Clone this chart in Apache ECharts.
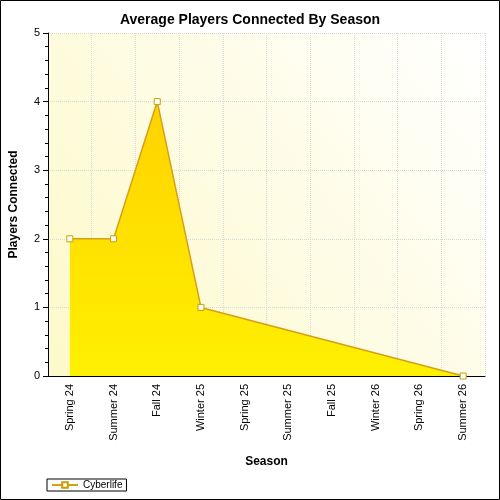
<!DOCTYPE html><html><head><meta charset="utf-8"><script src="https://cdn.jsdelivr.net/npm/echarts@6/dist/echarts.min.js"></script>
<style>html,body{margin:0;padding:0}#c{width:500px;height:500px}</style></head><body><div id="c"></div><script>
const categories=["Spring 24","Summer 24","Fall 24","Winter 25","Spring 25","Summer 25","Fall 25","Winter 26","Spring 26","Summer 26"];
const cyberlife=[2,2,4,1,null,null,null,null,null,0];
const yTicks=[0,1,2,3,4,5];
const chart=echarts.init(document.getElementById('c'));
chart.setOption({
 backgroundColor:'#fff',
 graphic:[{type:'rect',shape:{x:0.5,y:0.5,width:499,height:499},style:{fill:'none',stroke:'#000',lineWidth:1}}],
 title:{text:'Average Players Connected By Season',left:'center',top:8,textStyle:{fontFamily:'Arial',fontSize:14,fontWeight:'bold',color:'#000'}},
 grid:{left:48,right:15,top:33,bottom:124,backgroundColor:{type:'linear',x:0,y:1,x2:1,y2:0,colorStops:[{offset:0,color:'#fdf9c8'},{offset:1,color:'#ffffff'}]},show:true,borderWidth:0},
 legend:{left:47,bottom:9,itemWidth:26,itemHeight:7,itemGap:4,padding:[1,4],borderColor:'#000',borderWidth:1,borderRadius:0,textStyle:{fontFamily:'Arial',fontSize:10,color:'#000'},data:['Cyberlife']},
 xAxis:{type:'category',data:categories,boundaryGap:true,name:'Season',nameLocation:'middle',nameGap:80,nameTextStyle:{fontFamily:'Arial',fontWeight:'bold',fontSize:12,color:'#000'},
  axisLine:{lineStyle:{color:'#000'}},axisTick:{alignWithLabel:true,length:5,lineStyle:{color:'#000'}},
  axisLabel:{rotate:90,fontFamily:'Arial',fontSize:11,color:'#000',margin:8},
  splitLine:{show:true,lineStyle:{type:'dotted',color:'#d8d8d8'}}},
 yAxis:{type:'value',min:0,max:5,interval:1,name:'Players Connected',nameLocation:'middle',nameGap:28,nameTextStyle:{fontFamily:'Arial',fontWeight:'bold',fontSize:12,color:'#000'},
  axisLine:{show:true,lineStyle:{color:'#000'}},axisTick:{show:true,length:5,lineStyle:{color:'#000'}},
  minorTick:{show:true,splitNumber:5,length:3,lineStyle:{color:'#000'}},
  axisLabel:{fontFamily:'Arial',fontSize:11,color:'#000',formatter:v=>yTicks.includes(v)?String(v):''},
  splitLine:{show:true,lineStyle:{type:'dotted',color:'#d8d8d8'}}},
 series:[{name:'Cyberlife',type:'line',data:cyberlife,connectNulls:true,symbol:'rect',symbolSize:6,
  itemStyle:{color:'#fff',borderColor:'#c8a000',borderWidth:1},
  lineStyle:{color:'#d4a017',width:1.5},
  areaStyle:{opacity:1,color:{type:'linear',x:0,y:0,x2:0,y2:1,colorStops:[{offset:0,color:'#ffd200'},{offset:1,color:'#fff000'}]}}}]
});
</script></body></html>
